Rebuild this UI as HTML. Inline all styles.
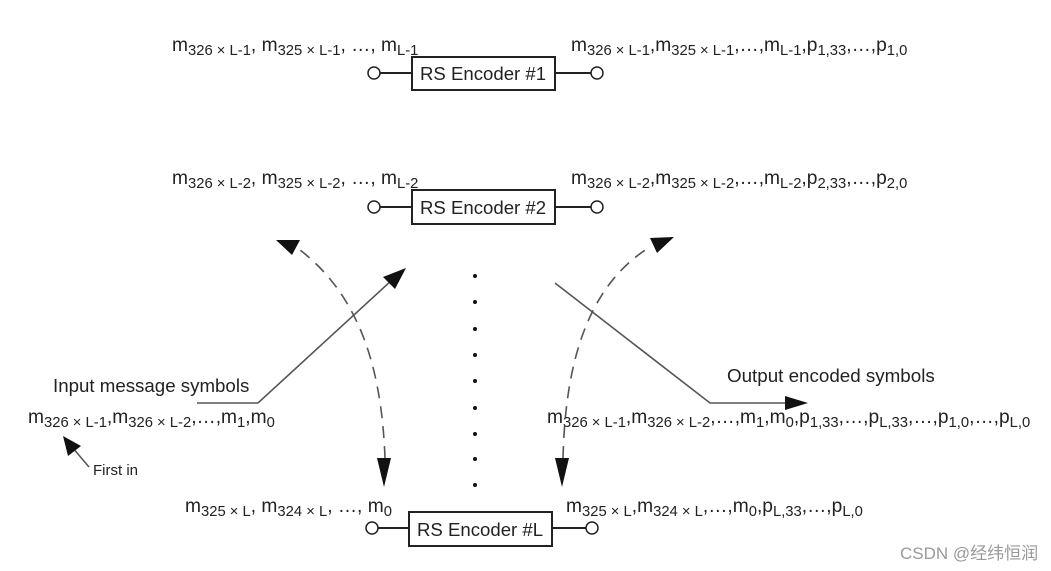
<!DOCTYPE html>
<html><head><meta charset="utf-8"><style>
html,body{margin:0;padding:0;background:#fff;}
svg{display:block;font-family:"Liberation Sans",Arial,sans-serif;}
text{fill:#222;}
.s{font-size:14.8px;}
</style></head><body>
<svg width="1051" height="571" viewBox="0 0 1051 571" xmlns="http://www.w3.org/2000/svg">
<g stroke="#222" stroke-width="2" fill="#fff">
<line x1="380" y1="73" x2="412" y2="73"/><line x1="555" y1="73" x2="591" y2="73"/>
<rect x="412" y="57" width="143" height="33"/>
<circle cx="374" cy="73" r="6" stroke-width="1.5"/><circle cx="597" cy="73" r="6" stroke-width="1.5"/>
<line x1="380" y1="207" x2="412" y2="207"/><line x1="555" y1="207" x2="591" y2="207"/>
<rect x="412" y="190" width="143" height="34"/>
<circle cx="374" cy="207" r="6" stroke-width="1.5"/><circle cx="597" cy="207" r="6" stroke-width="1.5"/>
<line x1="378" y1="528" x2="409" y2="528"/><line x1="552" y1="528" x2="586" y2="528"/>
<rect x="409" y="512" width="143" height="34"/>
<circle cx="372" cy="528" r="6" stroke-width="1.5"/><circle cx="592" cy="528" r="6" stroke-width="1.5"/>
</g>
<g font-size="18.6">
<text x="420" y="80">RS Encoder #1</text>
<text x="420" y="214">RS Encoder #2</text>
<text x="417" y="536">RS Encoder #L</text>
</g>
<g fill="#111">
<circle cx="475" cy="276" r="2"/><circle cx="475" cy="302" r="2"/><circle cx="475" cy="329" r="2"/><circle cx="475" cy="355" r="2"/><circle cx="475" cy="381" r="2"/><circle cx="475" cy="408" r="2"/><circle cx="475" cy="434" r="2"/><circle cx="475" cy="459" r="2"/><circle cx="475" cy="485" r="2"/>
</g>
<polyline points="197,403 258,403 392,280" fill="none" stroke="#555" stroke-width="1.6"/>
<polygon points="406,268 395,289 383,277" fill="#111"/>
<polyline points="555,283 710,403 790,403" fill="none" stroke="#555" stroke-width="1.6"/>
<polygon points="808,403 785,396 785,410" fill="#111"/>
<path d="M385,458 C382,380 365,300 300,250" fill="none" stroke="#555" stroke-width="1.6" stroke-dasharray="12,8"/>
<polygon points="276,240 300,240 292,255" fill="#111"/>
<polygon points="384,487 377,458 391,458" fill="#111"/>
<path d="M563,458 C565,380 580,290 650,247" fill="none" stroke="#555" stroke-width="1.6" stroke-dasharray="12,8"/>
<polygon points="674,237 650,238 657,253" fill="#111"/>
<polygon points="562,487 555,458 569,458" fill="#111"/>
<line x1="89" y1="467" x2="72" y2="447" stroke="#555" stroke-width="1.5"/>
<polygon points="63,436 68,456 81,446" fill="#111"/>
<g font-size="19.2">
<text x="172" y="51">m<tspan class="s" dy="4">326 × L-1</tspan><tspan dy="-4">, m</tspan><tspan class="s" dy="4">325 × L-1</tspan><tspan dy="-4">, …, m</tspan><tspan class="s" dy="4">L-1</tspan></text>
<text x="571" y="51">m<tspan class="s" dy="4">326 × L-1</tspan><tspan dy="-4">,m</tspan><tspan class="s" dy="4">325 × L-1</tspan><tspan dy="-4">,…,m</tspan><tspan class="s" dy="4">L-1</tspan><tspan dy="-4">,p</tspan><tspan class="s" dy="4">1,33</tspan><tspan dy="-4">,…,p</tspan><tspan class="s" dy="4">1,0</tspan></text>
<text x="172" y="184">m<tspan class="s" dy="4">326 × L-2</tspan><tspan dy="-4">, m</tspan><tspan class="s" dy="4">325 × L-2</tspan><tspan dy="-4">, …, m</tspan><tspan class="s" dy="4">L-2</tspan></text>
<text x="571" y="184">m<tspan class="s" dy="4">326 × L-2</tspan><tspan dy="-4">,m</tspan><tspan class="s" dy="4">325 × L-2</tspan><tspan dy="-4">,…,m</tspan><tspan class="s" dy="4">L-2</tspan><tspan dy="-4">,p</tspan><tspan class="s" dy="4">2,33</tspan><tspan dy="-4">,…,p</tspan><tspan class="s" dy="4">2,0</tspan></text>
<text x="185" y="512">m<tspan class="s" dy="4">325 × L</tspan><tspan dy="-4">, m</tspan><tspan class="s" dy="4">324 × L</tspan><tspan dy="-4">, …, m</tspan><tspan class="s" dy="4">0</tspan></text>
<text x="566" y="512">m<tspan class="s" dy="4">325 × L</tspan><tspan dy="-4">,m</tspan><tspan class="s" dy="4">324 × L</tspan><tspan dy="-4">,…,m</tspan><tspan class="s" dy="4">0</tspan><tspan dy="-4">,p</tspan><tspan class="s" dy="4">L,33</tspan><tspan dy="-4">,…,p</tspan><tspan class="s" dy="4">L,0</tspan></text>
<text x="28" y="423">m<tspan class="s" dy="4">326 × L-1</tspan><tspan dy="-4">,m</tspan><tspan class="s" dy="4">326 × L-2</tspan><tspan dy="-4">,…,m</tspan><tspan class="s" dy="4">1</tspan><tspan dy="-4">,m</tspan><tspan class="s" dy="4">0</tspan></text>
<text x="547" y="423">m<tspan class="s" dy="4">326 × L-1</tspan><tspan dy="-4">,m</tspan><tspan class="s" dy="4">326 × L-2</tspan><tspan dy="-4">,…,m</tspan><tspan class="s" dy="4">1</tspan><tspan dy="-4">,m</tspan><tspan class="s" dy="4">0</tspan><tspan dy="-4">,p</tspan><tspan class="s" dy="4">1,33</tspan><tspan dy="-4">,…,p</tspan><tspan class="s" dy="4">L,33</tspan><tspan dy="-4">,…,p</tspan><tspan class="s" dy="4">1,0</tspan><tspan dy="-4">,…,p</tspan><tspan class="s" dy="4">L,0</tspan></text>
<text x="53" y="392" font-size="18.7">Input message symbols</text>
<text x="727" y="382" font-size="18.8">Output encoded symbols</text>
</g>
<text x="93" y="475" font-size="15">First in</text>
<text x="900" y="559" font-size="17" style="fill:#999" font-family="Liberation Sans, Noto Sans CJK SC, sans-serif">CSDN @经纬恒润</text>
</svg>
</body></html>
